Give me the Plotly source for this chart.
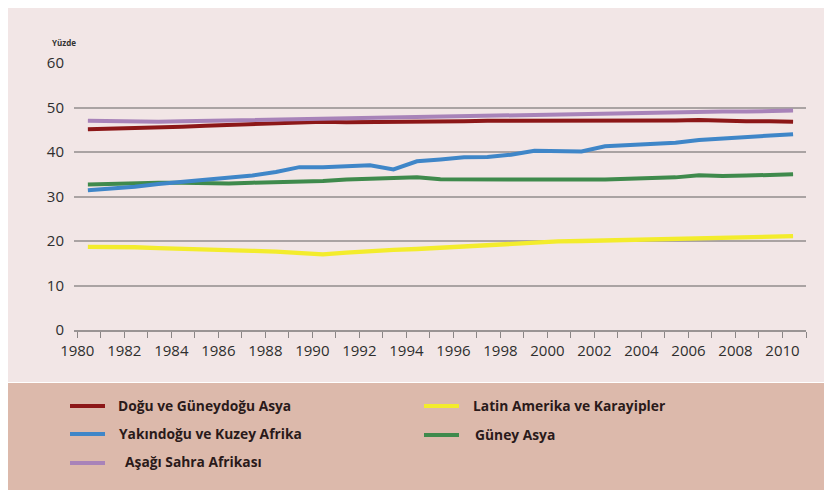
import plotly.graph_objects as go

years = list(range(1980, 2011))

dogu_guneydogu_asya = [45.1, 45.2, 45.3, 45.5, 45.7, 45.9, 46.1, 46.3, 46.5, 46.7, 46.8,
                       46.7, 46.7, 46.8, 46.8, 46.9, 46.9, 47.0, 47.0, 47.0, 47.0,
                       46.9, 47.0, 47.0, 47.1, 47.1, 47.2, 47.0, 46.9, 46.9, 46.8]
yakindogu_kuzey_afrika = [31.4, 31.7, 32.2, 32.8, 33.3, 33.7, 34.1, 34.7, 35.5, 36.6, 36.6,
                          36.8, 37.0, 36.1, 37.9, 38.3, 38.8, 38.9, 39.4, 40.3, 40.1,
                          40.1, 41.3, 41.6, 41.8, 42.1, 42.7, 43.0, 43.3, 43.7, 44.0]
asagi_sahra_afrikasi = [47.0, 46.9, 46.8, 46.8, 46.9, 47.0, 47.1, 47.3, 47.4, 47.5, 47.6,
                        47.7, 47.8, 47.9, 47.9, 48.0, 48.1, 48.2, 48.2, 48.3, 48.4,
                        48.5, 48.6, 48.7, 48.8, 48.9, 49.0, 49.1, 49.1, 49.2, 49.3]
latin_amerika_karayipler = [18.7, 18.7, 18.6, 18.4, 18.3, 18.2, 18.0, 17.8, 17.6, 17.3, 17.0,
                            17.4, 17.8, 18.0, 18.2, 18.5, 18.7, 19.0, 19.3, 19.6, 19.9,
                            20.0, 20.1, 20.3, 20.4, 20.6, 20.7, 20.8, 20.9, 21.0, 21.1]
guney_asya = [32.7, 32.9, 33.0, 33.1, 33.1, 32.9, 32.9, 33.1, 33.2, 33.3, 33.5,
              33.8, 34.0, 34.1, 34.3, 33.9, 33.8, 33.8, 33.8, 33.8, 33.7,
              33.8, 33.8, 33.9, 34.0, 34.3, 34.8, 34.6, 34.7, 34.9, 35.0]

series_names = ["Doğu ve Güneydoğu Asya", "Yakındoğu ve Kuzey Afrika", "Aşağı Sahra Afrikası",
                "Latin Amerika ve Karayipler", "Güney Asya"]
series_values = [dogu_guneydogu_asya, yakindogu_kuzey_afrika, asagi_sahra_afrikasi,
                 latin_amerika_karayipler, guney_asya]
colors = ["#8c1718", "#3f86c8", "#a883b9", "#f3ec2c", "#3f8a4c"]

y_title = "Yüzde"
x_tick_labels = [str(y) for y in range(1980, 2011, 2)]

# page is offset by the 8px body margin
OFF = 8
W, H = 832 - OFF, 490 - OFF
L, R, T, B = 74 - OFF, 26, 63 - OFF, 160
PW, PH = W - L - R, H - T - B


def px(x):
    return (x - OFF - L) / PW


def py(y):
    return (H - B - (y - OFF)) / PH


x_offset = 0.45  # data points sit mid-year on the axis

fig = go.Figure()
draw_order = [4, 1, 3, 0, 2]
for i in draw_order:
    fig.add_trace(go.Scatter(
        x=[y + x_offset for y in years], y=series_values[i], mode="lines",
        name=series_names[i], line=dict(color=colors[i], width=4.3 if i == 3 else 4),
        showlegend=False))

shapes = [
    dict(type="rect", xref="paper", yref="paper", x0=px(4), x1=px(840), y0=py(382), y1=py(2),
         fillcolor="#f2e6e6", line=dict(width=0), layer="below"),
    dict(type="rect", xref="paper", yref="paper", x0=px(4), x1=px(840), y0=py(500), y1=py(383),
         fillcolor="#dcb9ab", line=dict(width=0), layer="below"),
]

annotations = [
    dict(text="<b>" + y_title + "</b>", xref="paper", yref="paper", x=px(50), y=py(42),
         xanchor="left", yanchor="middle", showarrow=False,
         font=dict(family="Open Sans", size=8, color="#333333")),
]

legend_pos = [
    (70, 105, 406, 116),
    (70, 105, 434, 117),
    (70, 105, 463, 123),
    (424, 459, 406, 471),
    (424, 459, 435, 473),
]
for i, (lx0, lx1, ly, tx) in enumerate(legend_pos):
    shapes.append(dict(type="line", xref="paper", yref="paper", x0=px(lx0), x1=px(lx1),
                       y0=py(ly), y1=py(ly), line=dict(color=colors[i], width=4)))
    annotations.append(dict(text="<b>" + series_names[i] + "</b>", xref="paper", yref="paper",
                            x=px(tx), y=py(ly - 1), xanchor="left", yanchor="middle",
                            showarrow=False,
                            font=dict(family="Open Sans", size=13.8, color="#2a1a1a")))

fig.update_layout(
    width=W, height=H,
    margin=dict(l=L, r=R, t=T, b=B, pad=0),
    paper_bgcolor="white", plot_bgcolor="rgba(0,0,0,0)",
    shapes=shapes, annotations=annotations,
    xaxis=dict(range=[1979.86, 2011.0], tickmode="array",
               tickvals=list(range(1980, 2011, 2)), ticktext=x_tick_labels,
               ticks="outside", ticklen=6, tickwidth=1, tickcolor="#8a8585",
               minor=dict(dtick=1, tick0=1980, ticks="outside", ticklen=6, tickwidth=1,
                          tickcolor="#8a8585", showgrid=False),
               showline=True, linecolor="#9a9494", linewidth=1.5, showgrid=False,
               zeroline=False, tickfont=dict(family="Open Sans", size=15, color="#2e2e2e"),
               fixedrange=True),
    yaxis=dict(range=[0, 60], tickvals=[0, 10, 20, 30, 40, 50, 60], showgrid=True,
               gridcolor="#aaa3a3", gridwidth=1.5, zeroline=False, ticks="",
               ticklabelstandoff=9,
               tickfont=dict(family="Open Sans", size=15, color="#2e2e2e"), fixedrange=True),
    showlegend=False,
)

fig.write_html("out.html")
